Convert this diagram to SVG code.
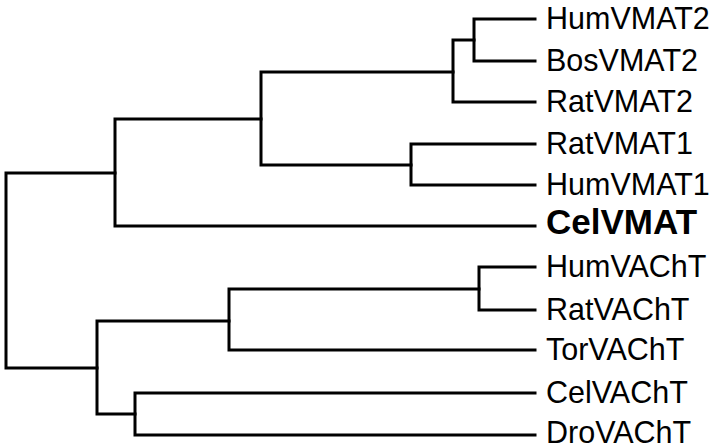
<svg xmlns="http://www.w3.org/2000/svg" width="720" height="446" viewBox="0 0 720 446">
<style>
.br{fill:none;stroke:#000;stroke-width:3;stroke-linejoin:miter;stroke-linecap:square}
.lb{font-family:"Liberation Sans",Arial,sans-serif;font-size:30.5px;fill:#000}
.bd{font-weight:bold;font-size:35px}
</style>
<rect width="720" height="446" fill="#fff"/>
<g id="connectors">
<path class="br" d="M115,173 H6 V368 H97"/>
<path class="br" d="M261,119 H115 V226 H535"/>
<path class="br" d="M453,72 H261 V165 H411"/>
<path class="br" d="M474,40 H453 V102 H535"/>
<path class="br" d="M535,19 H474 V61 H535"/>
<path class="br" d="M535,144 H411 V185 H535"/>
<path class="br" d="M229,321 H97 V414 H135"/>
<path class="br" d="M479,289 H229 V350 H535"/>
<path class="br" d="M535,267 H479 V310 H535"/>
<path class="br" d="M535,393 H135 V435 H535"/>
</g>
<g id="HumVMAT2"><text class="lb" x="546" y="29">HumVMAT2</text></g>
<g id="BosVMAT2"><text class="lb" x="546" y="71">BosVMAT2</text></g>
<g id="RatVMAT2"><text class="lb" x="546" y="112">RatVMAT2</text></g>
<g id="RatVMAT1"><text class="lb" x="546" y="154">RatVMAT1</text></g>
<g id="HumVMAT1"><text class="lb" x="546" y="195">HumVMAT1</text></g>
<g id="CelVMAT"><text class="lb bd" x="546" y="234">CelVMAT</text></g>
<g id="HumVAChT"><text class="lb" x="546" y="277">HumVAChT</text></g>
<g id="RatVAChT"><text class="lb" x="546" y="320">RatVAChT</text></g>
<g id="TorVAChT"><text class="lb" x="546" y="360">TorVAChT</text></g>
<g id="CelVAChT"><text class="lb" x="546" y="403">CelVAChT</text></g>
<g id="DroVAChT"><text class="lb" x="546" y="443">DroVAChT</text></g>
</svg>
